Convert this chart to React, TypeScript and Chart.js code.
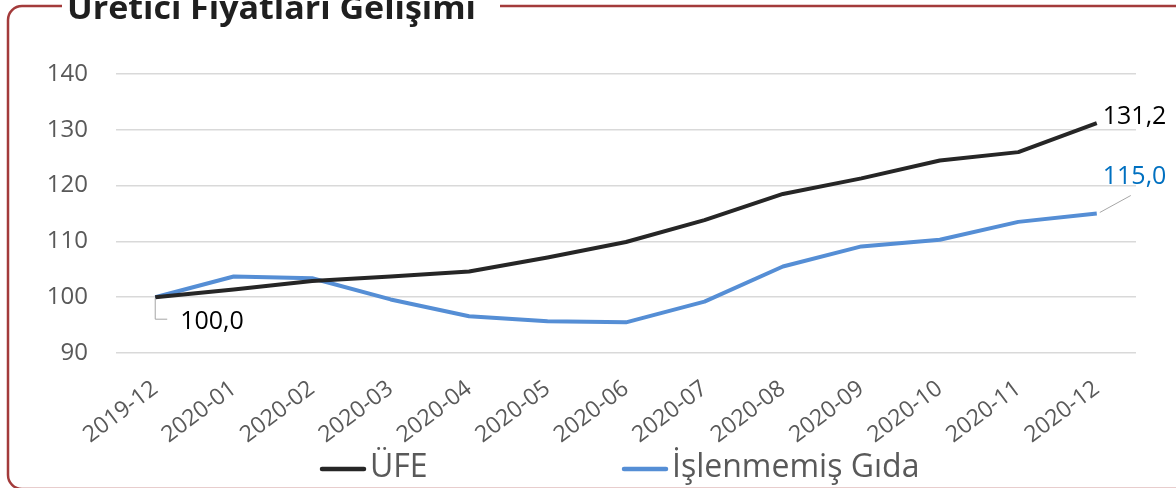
import React, { useEffect, useRef } from "react";
import { Chart, registerables } from "chart.js";

Chart.register(...registerables);

const chartTitle = "Üretici Fiyatları Gelişimi";
const categories = [
  "2019-12", "2020-01", "2020-02", "2020-03", "2020-04", "2020-05", "2020-06",
  "2020-07", "2020-08", "2020-09", "2020-10", "2020-11", "2020-12",
];
const seriesNames = ["ÜFE", "İşlenmemiş Gıda"];
const ufeValues = [100.0, 101.4, 102.9, 103.7, 104.6, 107.1, 109.9, 113.8, 118.5, 121.3, 124.5, 126.0, 131.2];
const gidaValues = [100.0, 103.7, 103.4, 99.6, 96.6, 95.7, 95.5, 99.2, 105.5, 109.1, 110.3, 113.5, 115.0];
const yMin = 90;
const yMax = 140;
const yStep = 10;

const FONT = "'Open Sans', 'Noto Sans', sans-serif";
const BLACK = "#262626";
const BLUE = "#558ED5";
const LABEL_BLUE = "#0070C0";
const GREY_TEXT = "#595959";
const FRAME = "#A33B3B";

const fmt = (v: number) => v.toFixed(1).replace(".", ",");

const decorPlugin = {
  id: "decor",
  beforeDraw(chart: any) {
    const ctx = chart.ctx;
    ctx.save();
    ctx.strokeStyle = FRAME;
    ctx.lineWidth = 2.5;
    const x0 = 8, y0 = 6, y1 = 489, r = 14;
    ctx.beginPath();
    ctx.moveTo(62, y0);
    ctx.lineTo(x0 + r, y0);
    ctx.arcTo(x0, y0, x0, y0 + r, r);
    ctx.lineTo(x0, y1 - r);
    ctx.arcTo(x0, y1, x0 + r, y1, r);
    ctx.lineTo(1200, y1);
    ctx.stroke();
    ctx.beginPath();
    ctx.moveTo(500, y0);
    ctx.lineTo(1200, y0);
    ctx.stroke();
    ctx.restore();
  },
  afterDraw(chart: any) {
    const ctx = chart.ctx;
    // title
    ctx.save();
    ctx.font = `bold 33px ${FONT}`;
    ctx.fillStyle = "#1F1F1F";
    ctx.textBaseline = "alphabetic";
    ctx.textAlign = "left";
    const w = ctx.measureText(chartTitle).width;
    ctx.translate(67, 19);
    ctx.scale(409 / w, 1);
    ctx.fillText(chartTitle, 0, 0);
    ctx.restore();

    // legend
    const colors = [BLACK, BLUE];
    const legendX = [322, 624];
    ctx.save();
    ctx.font = `32px ${FONT}`;
    ctx.textBaseline = "middle";
    ctx.textAlign = "left";
    seriesNames.forEach((name, i) => {
      ctx.strokeStyle = colors[i];
      ctx.lineWidth = 4.5;
      ctx.lineCap = "round";
      ctx.beginPath();
      ctx.moveTo(legendX[i], 469);
      ctx.lineTo(legendX[i] + 42, 469);
      ctx.stroke();
      ctx.fillStyle = GREY_TEXT;
      ctx.fillText(name, legendX[i] + 48, 468);
    });
    ctx.restore();
  },
  afterDatasetsDraw(chart: any) {
    const ctx = chart.ctx;
    const m0 = chart.getDatasetMeta(0).data;
    const m1 = chart.getDatasetMeta(1).data;
    const last = categories.length - 1;
    ctx.save();
    ctx.font = `25px ${FONT}`;
    ctx.textBaseline = "middle";
    ctx.textAlign = "left";

    // first point label (100,0)
    const p0 = m0[0];
    ctx.strokeStyle = "#A6A6A6";
    ctx.lineWidth = 1;
    ctx.beginPath();
    ctx.moveTo(p0.x, p0.y + 1);
    ctx.lineTo(p0.x, p0.y + 22);
    ctx.lineTo(p0.x + 12, p0.y + 22);
    ctx.stroke();
    ctx.fillStyle = "#000000";
    ctx.fillText(fmt(ufeValues[0]), p0.x + 25, p0.y + 25);

    // last ÜFE label
    const pa = m0[last];
    ctx.fillStyle = "#000000";
    ctx.fillText(fmt(ufeValues[last]), pa.x + 6, pa.y - 6);

    // last Gıda label
    const pb = m1[last];
    ctx.strokeStyle = "#A6A6A6";
    ctx.beginPath();
    ctx.moveTo(pb.x + 3, pb.y - 1);
    ctx.lineTo(pb.x + 34, pb.y - 18);
    ctx.stroke();
    ctx.fillStyle = LABEL_BLUE;
    ctx.fillText(fmt(gidaValues[last]), pb.x + 6, pb.y - 37);
    ctx.restore();
  },
};

export default function App() {
  const ref = useRef<HTMLCanvasElement | null>(null);
  useEffect(() => {
    document.body.style.margin = "0";
    const canvas = ref.current;
    if (!canvas) return;
    const chart = new Chart(canvas, {
      type: "line",
      data: {
        labels: categories,
        datasets: [
          {
            label: seriesNames[0],
            data: ufeValues,
            borderColor: BLACK,
            backgroundColor: BLACK,
            borderWidth: 4,
            pointRadius: 0,
            tension: 0,
            borderJoinStyle: "round",
          },
          {
            label: seriesNames[1],
            data: gidaValues,
            borderColor: BLUE,
            backgroundColor: BLUE,
            borderWidth: 4,
            pointRadius: 0,
            tension: 0,
            borderJoinStyle: "round",
          },
        ],
      },
      options: {
        responsive: false,
        animation: false,
        layout: { padding: { top: 74, right: 40, bottom: 45, left: 0 } },
        plugins: {
          legend: { display: false },
          title: { display: false },
          tooltip: { enabled: false },
        },
        scales: {
          x: {
            offset: true,
            grid: { display: false, drawTicks: false },
            border: { display: false },
            ticks: {
              autoSkip: false,
              minRotation: 37,
              maxRotation: 37,
              padding: 22,
              color: GREY_TEXT,
              font: { family: FONT, size: 23 },
            },
            afterFit: (scale: any) => {
              scale.height = 90;
            },
          },
          y: {
            min: yMin,
            max: yMax,
            grid: { color: "#D9D9D9", lineWidth: 1.5, drawTicks: false },
            border: { display: false },
            ticks: {
              stepSize: yStep,
              padding: 28,
              color: GREY_TEXT,
              font: { family: FONT, size: 24 },
            },
            afterFit: (scale: any) => {
              scale.width = 116;
            },
          },
        },
      },
      plugins: [decorPlugin],
    });
    return () => chart.destroy();
  }, []);
  return (
    <div style={{ position: "absolute", left: 0, top: 0, width: 1176, height: 488 }}>
      <canvas ref={ref} width={1176} height={488} style={{ display: "block" }} />
    </div>
  );
}
